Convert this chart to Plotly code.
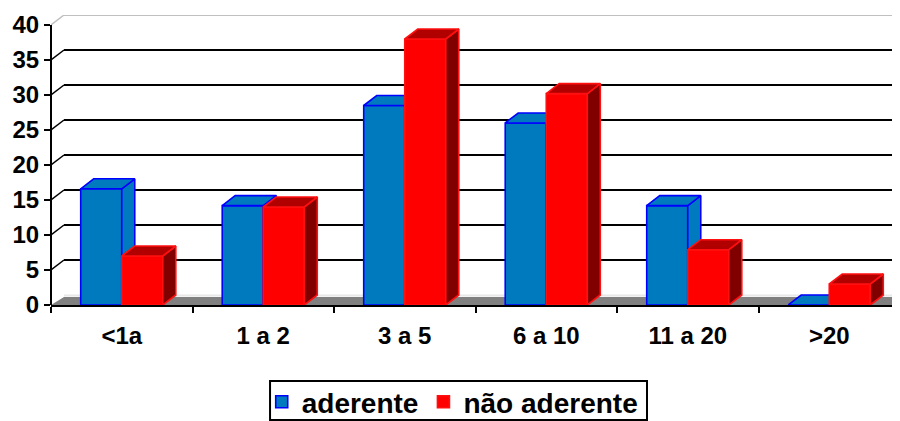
import plotly.graph_objects as go

categories = ["<1a", "1 a 2", "3 a 5", "6 a 10", "11 a 20", ">20"]
aderente = [16.6, 14.2, 28.5, 26.0, 14.2, 0]
nao_aderente = [7.0, 14.0, 38.0, 30.2, 7.9, 3.0]
y_ticks = [0, 5, 10, 15, 20, 25, 30, 35, 40]

BAR_W = 0.29
DX = 13 / 141.5
DY = 10 / 7
FLOOR_DY = 8 / 7
FONT = "Liberation Sans"
x_pos = list(range(len(categories)))
x_min, x_max = -0.5, len(categories) - 0.5


def polys(vals, left_off, kind):
    xs, ys = [], []
    for i, v in zip(x_pos, vals):
        l = i + left_off
        r = l + BAR_W
        if kind == "top":
            xs += [l, r, r + DX, l + DX, l, None]
            ys += [v, v, v + DY, v + DY, v, None]
        else:
            if v == 0:
                continue
            xs += [r, r + DX, r + DX, r, r, None]
            ys += [0, DY, v + DY, v, 0, None]
    return xs, ys


def series(name, vals, left_off, face, edge, top, side, xa, ya):
    tr = [go.Bar(x=x_pos, y=vals, name=name, width=BAR_W, offset=left_off,
                 marker=dict(color=face, line=dict(color=edge, width=1.6)),
                 xaxis=xa, yaxis=ya, hoverinfo="skip")]
    for kind, col in (("side", side), ("top", top)):
        px, py = polys(vals, left_off, kind)
        tr.append(go.Scatter(x=px, y=py, mode="lines", fill="toself", fillcolor=col,
                             line=dict(color=edge, width=1.6), showlegend=False,
                             xaxis=xa, yaxis=ya, hoverinfo="skip"))
    return tr


fig = go.Figure()
for t in series("aderente", aderente, -BAR_W, "#007ABF", "#0000FF", "#007ABF", "#007ABF", "x", "y"):
    fig.add_trace(t)
for t in series("não aderente", nao_aderente, 0, "#FF0000", "#FF1010", "#B00000", "#800000", "x2", "y2"):
    fig.add_trace(t)

shapes = []
shapes.append(dict(type="path", layer="below", xref="x", yref="y", line=dict(width=0), fillcolor="#808080",
                   path=f"M{x_min},0 L{x_min + DX},{FLOOR_DY} L{x_max},{FLOOR_DY} L{x_max},0 Z"))
shapes.append(dict(type="line", layer="below", xref="x", yref="y", x0=x_min + DX, x1=x_max,
                   y0=FLOOR_DY + 0.2, y1=FLOOR_DY + 0.2, line=dict(color="#E8E8E8", width=2)))
for v in y_ticks[1:]:
    col = "#C0C0C0" if v == y_ticks[-1] else "#000000"
    shapes.append(dict(type="line", layer="below", xref="x", yref="y", x0=x_min + DX, x1=x_max,
                       y0=v + DY, y1=v + DY, line=dict(color=col, width=2)))
    shapes.append(dict(type="line", layer="below", xref="x", yref="y", x0=x_min, x1=x_min + DX,
                       y0=v, y1=v + DY, line=dict(color=col, width=1.5)))
shapes.append(dict(type="line", xref="paper", yref="y", x0=0, x1=0, y0=0, y1=y_ticks[-1],
                   line=dict(color="#000000", width=2)))
# legend frame
shapes.append(dict(type="rect", xref="paper", yref="paper", x0=0.258, x1=0.702, y0=-0.262, y1=-0.3966,
                   line=dict(color="#000000", width=2), fillcolor="rgba(0,0,0,0)"))

fig.update_layout(
    width=892, height=413, autosize=False,
    margin=dict(l=43, r=0, t=7, b=116),
    paper_bgcolor="white", plot_bgcolor="white",
    shapes=shapes,
    xaxis=dict(range=[x_min, x_max], tickmode="array", tickvals=x_pos, ticktext=categories,
               showgrid=False, zeroline=False, showline=True, linecolor="#000000", linewidth=2,
               ticks="", ticklabelstandoff=8,
               tickfont=dict(family=FONT, size=24, color="#000000", weight="bold"),
               minor=dict(tickmode="array", tickvals=[i - 0.5 for i in x_pos] + [x_max],
                          ticks="outside", ticklen=6, tickwidth=1.5, tickcolor="#000000", showgrid=False)),
    yaxis=dict(range=[0, y_ticks[-1] + DY], tickmode="array", tickvals=y_ticks,
               showgrid=False, zeroline=False, showline=False,
               ticks="outside", ticklen=6, tickwidth=2, tickcolor="#000000",
               tickfont=dict(family=FONT, size=24, color="#000000", weight="bold")),
    xaxis2=dict(range=[x_min, x_max], overlaying="x", visible=False),
    yaxis2=dict(range=[0, y_ticks[-1] + DY], overlaying="y", visible=False),
    showlegend=True,
    legend=dict(orientation="h", xref="container", yref="container",
                x=0.498, xanchor="center", y=0.1065, yanchor="top",
                borderwidth=0, bgcolor="rgba(0,0,0,0)",
                font=dict(family=FONT, size=28, color="#000000", weight="bold"), itemwidth=30),
    font=dict(family=FONT, color="#000000"),
)

fig.write_html("out.html")
